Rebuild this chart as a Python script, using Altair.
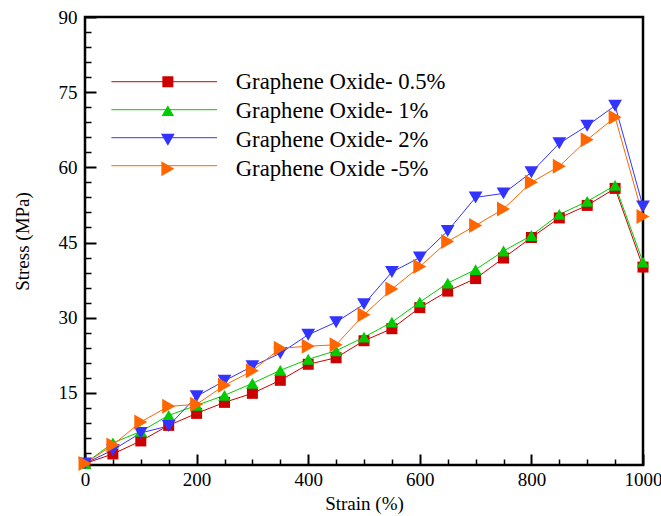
import altair as alt
import pandas as pd

strain = [0, 50, 100, 150, 200, 250, 300, 350, 400, 450, 500,
          550, 600, 650, 700, 750, 800, 850, 900, 950, 1000]

go_05 = [0.9, 2.8, 5.4, 8.5, 10.9, 13.1, 14.9, 17.5, 20.7, 22.0, 25.4,
         27.8, 32.0, 35.3, 37.8, 41.9, 46.0, 49.9, 52.4, 55.8, 40.1]
go_1 = [0.9, 5.0, 7.3, 10.5, 12.5, 14.5, 16.9, 19.5, 21.7, 23.4, 26.1,
        29.1, 33.1, 36.9, 39.6, 43.3, 46.4, 50.6, 53.2, 56.4, 41.1]
go_2 = [0.9, 3.6, 7.0, 8.4, 14.3, 17.4, 20.3, 22.9, 26.6, 29.1, 32.7,
        39.1, 42.0, 47.3, 54.0, 54.8, 59.0, 64.8, 68.3, 72.3, 52.2]
go_5 = [0.9, 4.6, 9.2, 12.3, 12.7, 16.5, 19.4, 23.9, 24.3, 24.6, 30.6,
        35.7, 40.2, 45.2, 48.4, 51.7, 57.0, 60.2, 65.5, 70.0, 50.2]

series_names = ["Graphene Oxide- 0.5%", "Graphene Oxide- 1%",
                "Graphene Oxide- 2%", "Graphene Oxide -5%"]
colors = ["#CC0000", "#00CC00", "#3333FF", "#FF6600"]
shapes = ["square", "triangle-up", "triangle-down", "triangle-right"]
sizes = [121, 225, 225, 200]

x_major = [0, 200, 400, 600, 800, 1000]
x_minor = [v for v in range(50, 1000, 50) if v % 200 != 0]
y_major = [15, 30, 45, 60, 75, 90]
y_minor = [v for v in range(3, 90, 3) if v % 15 != 0]

rows = []
for name, vals in zip(series_names, [go_05, go_1, go_2, go_5]):
    for i, (xv, yv) in enumerate(zip(strain, vals)):
        rows.append({"strain": xv, "stress": yv, "series": name, "idx": i})
df = pd.DataFrame(rows)

W, H = 558, 448
FONT = "Times New Roman, Liberation Serif, serif"

xscale = alt.Scale(domain=[0, 1000], nice=False, zero=False)
yscale = alt.Scale(domain=[0.6, 90], nice=False, zero=False)
cscale = alt.Scale(domain=series_names, range=colors)

base = alt.Chart(df)

lines = base.mark_line(strokeWidth=1, clip=False).encode(
    x=alt.X("strain:Q", scale=xscale,
            axis=alt.Axis(orient="bottom", values=x_major, ticks=False, tickSize=0,
                          domain=False, grid=False, labelFont=FONT, labelFontSize=19,
                          labelColor="black", labelPadding=5, labelFlush=False,
                          labelOverlap=False, format="d", title="Strain (%)",
                          titleFont=FONT, titleFontSize=19, titleFontWeight="normal",
                          titleColor="black", titleY=38, titleBaseline="middle")),
    y=alt.Y("stress:Q", scale=yscale,
            axis=alt.Axis(orient="left", values=y_major, ticks=False, tickSize=0,
                          domain=False, grid=False, labelFont=FONT, labelFontSize=19,
                          labelColor="black", labelPadding=8, labelFlush=False,
                          labelOverlap=False, format="d", title="Stress (MPa)",
                          titleFont=FONT, titleFontSize=19, titleFontWeight="normal",
                          titleColor="black", titleX=-63, titleY=H / 2,
                          titleBaseline="middle")),
    color=alt.Color("series:N", scale=cscale, sort=series_names,
                    legend=alt.Legend(title=None, orient="none", legendX=25.7, legendY=53.7,
                                      symbolType="stroke", symbolSize=11150,
                                      symbolStrokeWidth=1, labelExpr="''",
                                      labelFont=FONT, labelFontSize=22, rowPadding=6,
                                      padding=0, clipHeight=22)),
    order="idx:Q",
)

pt_legend = alt.Legend(title=None, orient="none", legendX=71.5, legendY=53.7,
                       symbolStrokeWidth=0, symbolOpacity=1, labelFont=FONT,
                       labelFontSize=22.7, labelColor="black", labelOffset=56.5,
                       labelLimit=400, rowPadding=6, padding=0, clipHeight=22)

points = base.mark_point(filled=True, opacity=1, strokeWidth=0).encode(
    x=alt.X("strain:Q", scale=xscale,
            axis=alt.Axis(orient="top", offset=-H, values=x_major, labels=False,
                          domain=False, grid=False, tickSize=11, tickWidth=2,
                          tickColor="black", title=None)),
    y=alt.Y("stress:Q", scale=yscale,
            axis=alt.Axis(orient="right", offset=-W, values=y_major, labels=False,
                          domain=False, grid=False, tickSize=11, tickWidth=2,
                          tickColor="black", title=None)),
    color=alt.Color("series:N", scale=cscale, sort=series_names, legend=pt_legend),
    shape=alt.Shape("series:N", scale=alt.Scale(domain=series_names, range=shapes),
                    sort=series_names, legend=pt_legend),
    size=alt.Size("series:N", scale=alt.Scale(domain=series_names, range=sizes),
                  sort=series_names, legend=pt_legend),
)

minor = base.mark_point(opacity=0).encode(
    x=alt.X("strain:Q", scale=xscale,
            axis=alt.Axis(orient="top", offset=-H, values=x_minor, labels=False,
                          domain=False, grid=False, tickSize=6, tickWidth=1.5,
                          tickColor="black", title=None)),
    y=alt.Y("stress:Q", scale=yscale,
            axis=alt.Axis(orient="right", offset=-W, values=y_minor, labels=False,
                          domain=False, grid=False, tickSize=6, tickWidth=1.5,
                          tickColor="black", title=None)),
)

chart = alt.layer(lines, points, minor).resolve_axis(
    x="independent", y="independent"
).resolve_legend(
    color="independent", shape="independent", size="independent"
).properties(
    width=W, height=H,
    autosize=alt.AutoSizeParams(type="none"),
    padding={"left": 85, "top": 17, "right": 18, "bottom": 51},
    background="white",
).configure_view(stroke="black", strokeWidth=2.5)

chart.save("out.html", embed_options={"renderer": "svg", "actions": False})
